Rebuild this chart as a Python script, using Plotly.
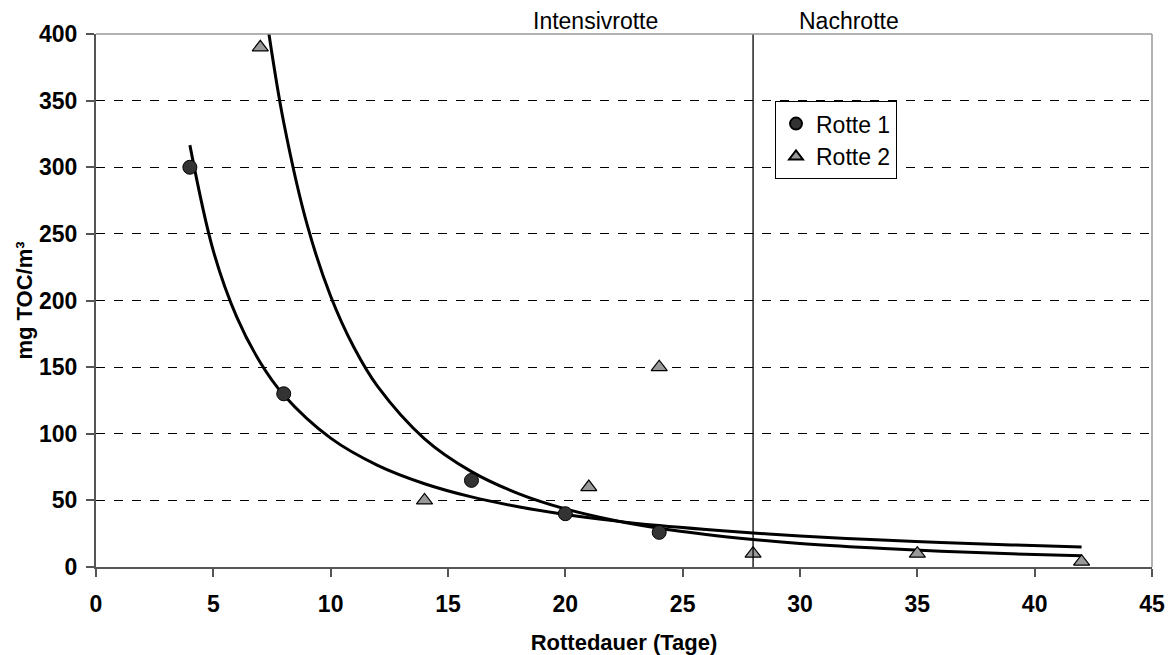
import plotly.graph_objects as go

# Measured data
rotte1_x = [4, 8, 16, 20, 24]
rotte1_y = [300, 130, 65, 40, 26]
rotte2_x = [7, 14, 21, 24, 28, 35, 42]
rotte2_y = [390, 50, 60, 150, 10, 10, 4]

# Trend lines
trend1_x = [4, 5, 6, 7, 8, 10, 12, 14, 16, 18, 20, 22, 24, 26, 28, 30, 33, 36, 39, 42]
trend1_y = [316.6, 237.2, 187.5, 153.5, 129.1, 96.7, 76.3, 62.5, 52.6, 45.2, 39.4, 34.8,
            31.1, 28.1, 25.5, 23.3, 20.6, 18.4, 16.6, 15.1]
trend2_x = [7, 7.37, 8, 9, 10, 11, 12, 14, 16, 18, 20, 22, 24, 26, 28, 30, 33, 36, 39, 42]
trend2_y = [448, 400, 333.6, 256.7, 203.2, 164.5, 135.5, 96.2, 71.6, 55.1, 43.6, 35.3,
            29.1, 24.4, 20.7, 17.7, 14.4, 11.8, 9.9, 8.4]

x_ticks = [0, 5, 10, 15, 20, 25, 30, 35, 40, 45]
y_ticks = [0, 50, 100, 150, 200, 250, 300, 350, 400]
phase_x = 28
phase_labels = ["Intensivrotte", "Nachrotte"]
phase_label_x = [21.3, 32.1]

FONT = "Liberation Sans, Arial, sans-serif"

fig = go.Figure()

fig.add_trace(go.Scatter(x=trend1_x, y=trend1_y, mode="lines", line=dict(color="black", width=3, shape="spline"),
                         showlegend=False, hoverinfo="skip", cliponaxis=True))
fig.add_trace(go.Scatter(x=trend2_x, y=trend2_y, mode="lines", line=dict(color="black", width=3, shape="spline"),
                         showlegend=False, hoverinfo="skip", cliponaxis=True))

fig.add_trace(go.Scatter(x=rotte1_x, y=rotte1_y, mode="markers", name="Rotte 1",
                         marker=dict(symbol="circle", size=14, color="#333333",
                                     line=dict(color="black", width=1)), cliponaxis=False))
fig.add_trace(go.Scatter(x=rotte2_x, y=rotte2_y, mode="markers", name="Rotte 2",
                         marker=dict(symbol="triangle-up", size=14, color="#999999",
                                     line=dict(color="black", width=1.2)), cliponaxis=False))

# Phase separator
fig.add_shape(type="line", xref="x", yref="paper", x0=phase_x, x1=phase_x, y0=0, y1=1,
              line=dict(color="black", width=1.3))
# top and right frame
fig.add_shape(type="line", xref="paper", yref="paper", x0=0, x1=1, y0=1, y1=1,
              line=dict(color="#999999", width=1.5))
fig.add_shape(type="line", xref="paper", yref="paper", x0=1, x1=1, y0=0, y1=1,
              line=dict(color="#999999", width=1.5))

for lbl, lx in zip(phase_labels, phase_label_x):
    fig.add_annotation(x=lx, y=1, xref="x", yref="paper", yanchor="bottom", text=lbl,
                       showarrow=False, font=dict(family=FONT, size=23, color="black"), yshift=-2)

fig.update_layout(
    width=1173, height=655,
    margin=dict(l=96, r=21, t=34, b=88),
    paper_bgcolor="white", plot_bgcolor="white",
    font=dict(family=FONT, color="black"),
    legend=dict(x=0.643, y=0.874, xanchor="left", yanchor="top",
                bordercolor="black", borderwidth=1, bgcolor="white",
                font=dict(family=FONT, size=23, color="black"),
                itemsizing="constant", tracegroupgap=0, itemwidth=30),
    showlegend=True,
)

fig.update_xaxes(range=[0, 45], tickvals=x_ticks, ticktext=[str(v) for v in x_ticks],
                 automargin=False,
                 showgrid=False, zeroline=False, showline=True, linecolor="#555555", linewidth=2,
                 ticks="outside", ticklen=8, tickcolor="#555555", tickwidth=1.5,
                 tickfont=dict(family=FONT, size=23, color="black", weight="bold"),
                 ticklabelstandoff=7,
                 title=dict(text="<b>Rottedauer (Tage)</b>", font=dict(family=FONT, size=22, color="black"),
                            standoff=20))
fig.update_yaxes(range=[0, 400], tickvals=y_ticks, ticktext=[str(v) for v in y_ticks],
                 automargin=False,
                 showgrid=True, gridcolor="black", griddash="dash", gridwidth=1,
                 zeroline=False, showline=True, linecolor="#555555", linewidth=2,
                 ticks="outside", ticklen=8, tickcolor="#555555", tickwidth=1.5,
                 tickfont=dict(family=FONT, size=23, color="black", weight="bold"),
                 ticklabelstandoff=4,
                 title=dict(text="<b>mg TOC/m³</b>", font=dict(family=FONT, size=22, color="black"),
                            standoff=0))

fig.write_html("out.html")
